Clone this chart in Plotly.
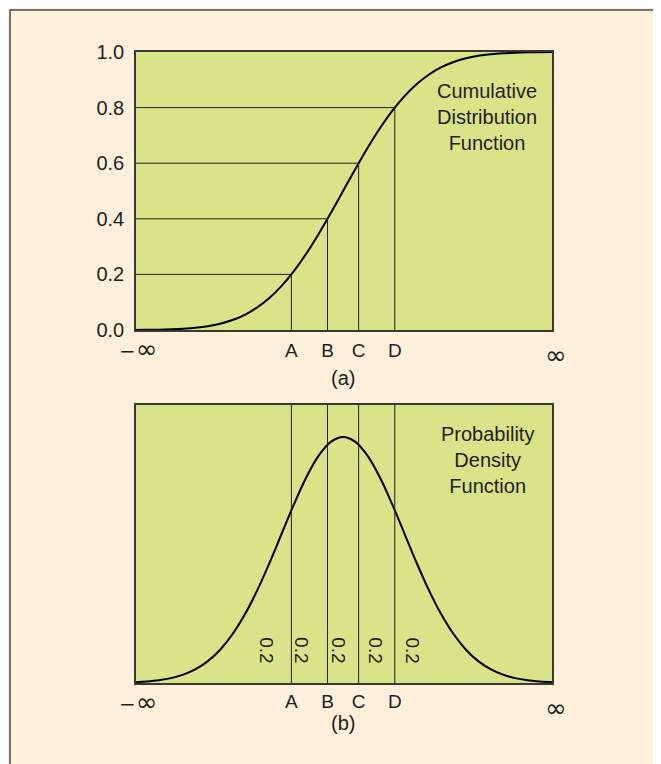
import plotly.graph_objects as go

# standard-score grid
z = [-3.4, -3.2, -3.0, -2.8, -2.6, -2.4, -2.2, -2.0, -1.8, -1.6, -1.4, -1.2, -1.0,
     -0.8, -0.6, -0.4, -0.2, 0.0, 0.2, 0.4, 0.6, 0.8, 1.0, 1.2, 1.4, 1.6, 1.8,
     2.0, 2.2, 2.4, 2.6, 2.8, 3.0, 3.2, 3.4]
cdf = [0.0003, 0.0007, 0.0013, 0.0026, 0.0047, 0.0082, 0.0139, 0.0228, 0.0359,
       0.0548, 0.0808, 0.1151, 0.1587, 0.2119, 0.2743, 0.3446, 0.4207, 0.5,
       0.5793, 0.6554, 0.7257, 0.7881, 0.8413, 0.8849, 0.9192, 0.9452, 0.9641,
       0.9772, 0.9861, 0.9918, 0.9953, 0.9974, 0.9987, 0.9993, 0.9997]
pdf = [0.0012, 0.0024, 0.0044, 0.0079, 0.0136, 0.0224, 0.0355, 0.0540, 0.0790,
       0.1109, 0.1497, 0.1942, 0.2420, 0.2897, 0.3332, 0.3683, 0.3910, 0.3989,
       0.3910, 0.3683, 0.3332, 0.2897, 0.2420, 0.1942, 0.1497, 0.1109, 0.0790,
       0.0540, 0.0355, 0.0224, 0.0136, 0.0079, 0.0044, 0.0024, 0.0012]

# quantile points A-D
q_labels = ["A", "B", "C", "D"]
q_x = [-0.8416, -0.2533, 0.2533, 0.8416]
q_p = [0.2, 0.4, 0.6, 0.8]

# area labels in the density plot
area_text = ["0.2", "0.2", "0.2", "0.2", "0.2"]
area_x = [-1.24, -0.67, -0.07, 0.53, 1.13]

y_ticks = [0.0, 0.2, 0.4, 0.6, 0.8, 1.0]

XMIN, XMAX = -3.37, 3.40
Y2MAX = 0.4508

INK = "#231F20"
GREEN = "#D9E388"
CREAM = "#FEF0DA"
FONT = "Liberation Sans, Arial, sans-serif"
SYM = "DejaVu Sans, sans-serif"


def px(xp):
    return (xp - 136) / 416


def py(yp):
    return (683 - yp) / 631


fig = go.Figure()

# CDF curve
fig.add_trace(go.Scatter(x=z, y=cdf, mode="lines", line=dict(color="black", width=2, shape="spline"),
                         xaxis="x", yaxis="y", hoverinfo="skip"))
for qx, qp in zip(q_x, q_p):
    fig.add_trace(go.Scatter(x=[XMIN, qx, qx], y=[qp, qp, 0], mode="lines",
                             line=dict(color=INK, width=1), xaxis="x", yaxis="y", hoverinfo="skip"))

# PDF curve
fig.add_trace(go.Scatter(x=z, y=pdf, mode="lines", line=dict(color="black", width=2, shape="spline"),
                         xaxis="x2", yaxis="y2", hoverinfo="skip"))
for qx in q_x:
    fig.add_trace(go.Scatter(x=[qx, qx], y=[0, Y2MAX], mode="lines",
                             line=dict(color=INK, width=1), xaxis="x2", yaxis="y2", hoverinfo="skip"))

ann = []
for t, ax in zip(area_text, area_x):
    ann.append(dict(x=ax, y=0.0535, xref="x2", yref="y2", text=t, textangle=90, showarrow=False,
                    font=dict(size=19, color=INK, family=FONT)))


def pap(text, x, y, size=20, family=FONT):
    return dict(x=x, y=y, xref="paper", yref="paper", text=text, showarrow=False,
                font=dict(size=size, color=INK, family=family), xanchor="center", yanchor="middle")


NEG_INF = "−<span style='font-size:26px'>∞</span>"
POS_INF = "<span style='font-size:26px'>∞</span>"

ann += [
    pap("Cumulative<br>Distribution<br>Function", px(487), py(117)),
    pap("Probability<br>Density<br>Function", px(487), py(460)),
    pap("(a)", px(343), py(378)),
    pap("(b)", px(343), py(723)),
    pap(NEG_INF, px(138), py(349), 20, SYM),
    pap(POS_INF, px(556), py(355), 20, SYM),
    pap(NEG_INF, px(138), py(702), 20, SYM),
    pap(POS_INF, px(556), py(708), 20, SYM),
]

axis_common = dict(showline=True, linecolor="#3a3a30", linewidth=1.5, mirror=True,
                   showgrid=False, zeroline=False, ticks="",
                   tickfont=dict(size=19, color=INK, family=FONT))

fig.update_layout(
    width=653, height=756,
    margin=dict(l=128, r=109, t=44, b=81),
    paper_bgcolor=CREAM,
    plot_bgcolor=GREEN,
    showlegend=False,
    xaxis=dict(axis_common, domain=[0, 1], range=[XMIN, XMAX], anchor="y",
               tickvals=q_x, ticktext=q_labels, ticklabelstandoff=2),
    yaxis=dict(axis_common, domain=[py(330), 1], range=[0, 1], anchor="x",
               tickvals=y_ticks, tickformat=".1f", ticklabelstandoff=6,
               tickfont=dict(size=20, color=INK, family=FONT)),
    xaxis2=dict(axis_common, domain=[0, 1], range=[XMIN, XMAX], anchor="y2",
                tickvals=q_x, ticktext=q_labels, ticklabelstandoff=0),
    yaxis2=dict(axis_common, domain=[0, py(405)], range=[0, Y2MAX], anchor="x2",
                showticklabels=False),
    annotations=ann,
    shapes=[dict(type="rect", xref="paper", yref="paper",
                 x0=px(10), x1=px(655), y0=py(775), y1=py(10),
                 fillcolor="rgba(0,0,0,0)", line=dict(color="#4a4a4a", width=1.5),
                 layer="above")],
)

fig.write_html("out.html")
